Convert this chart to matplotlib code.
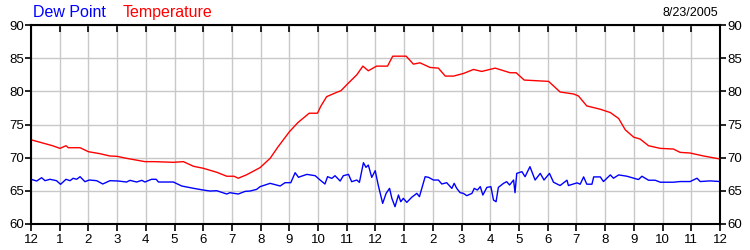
import matplotlib
matplotlib.use("Agg")
import matplotlib.pyplot as plt

plt.rcParams['font.family'] = ['Liberation Sans', 'DejaVu Sans']

# hours since midnight, temperature readings
temp_hours = [0.0, 0.25, 0.5, 0.75, 1.01, 1.22, 1.3, 1.71, 2.0, 2.4, 2.75, 3.0, 3.33,
              3.97, 4.3, 4.96, 5.31, 5.66, 6.0, 6.47, 6.82, 7.07, 7.22, 7.5, 7.98,
              8.33, 8.6, 9.0, 9.3, 9.69, 9.98, 10.1, 10.3, 10.65, 10.8, 11.0, 11.35,
              11.56, 11.75, 12.04, 12.42, 12.6, 13.07, 13.32, 13.55, 13.9, 14.19,
              14.43, 14.72, 15.07, 15.3, 15.41, 15.7, 16.17, 16.69, 16.9, 17.18,
              18.03, 18.43, 18.9, 19.07, 19.36, 19.83, 20.18, 20.47, 20.7, 20.99,
              21.22, 21.51, 21.92, 22.38, 22.61, 22.96, 23.43, 24.0]
temperature = [72.7, 72.4, 72.1, 71.8, 71.4, 71.8, 71.5, 71.5, 70.9, 70.6, 70.25, 70.2, 69.9,
               69.4, 69.4, 69.3, 69.4, 68.7, 68.4, 67.8, 67.2, 67.2, 66.9, 67.4, 68.5,
               69.9, 71.6, 73.9, 75.3, 76.7, 76.7, 77.8, 79.2, 79.85, 80.1, 81.0, 82.5,
               83.8, 83.1, 83.8, 83.8, 85.3, 85.3, 84.1, 84.3, 83.6, 83.5,
               82.3, 82.3, 82.7, 83.1, 83.3, 83.0, 83.5, 82.8, 82.8, 81.7,
               81.5, 79.9, 79.6, 79.3, 77.8, 77.3, 76.8, 75.9, 74.2, 73.1,
               72.8, 71.8, 71.4, 71.3, 70.8, 70.7, 70.25, 69.8]

# hours since midnight, dew point readings
dew_hours = [0.0, 0.2, 0.37, 0.49, 0.66, 0.89, 1.03, 1.22, 1.36, 1.47, 1.59, 1.71, 1.88,
             2.03, 2.29, 2.5, 2.75, 3.04, 3.33, 3.45, 3.68, 3.86, 3.97, 4.2, 4.36, 4.44,
             4.96, 5.25, 5.66, 6.0, 6.24, 6.47, 6.82, 6.93, 7.22, 7.46, 7.63, 7.86, 7.98,
             8.33, 8.68, 8.85, 9.05, 9.2, 9.32, 9.37, 9.61, 9.9, 10.07, 10.24, 10.33,
             10.48, 10.59, 10.77, 10.88, 11.06, 11.17, 11.35, 11.44, 11.58, 11.67, 11.75,
             11.87, 11.99, 12.1, 12.25, 12.37, 12.49, 12.57, 12.68, 12.8, 12.88, 12.97,
             13.09, 13.26, 13.44, 13.53, 13.73, 13.85, 14.02, 14.19, 14.31, 14.48, 14.66,
             14.74, 14.83, 14.95, 15.06, 15.18, 15.36, 15.44, 15.55, 15.65, 15.74, 15.88,
             16.02, 16.11, 16.2, 16.28, 16.46, 16.57, 16.67, 16.81, 16.86, 16.92, 17.1,
             17.21, 17.38, 17.56, 17.74, 17.87, 18.06, 18.2, 18.43, 18.67, 18.72, 19.02,
             19.13, 19.25, 19.36, 19.54, 19.6, 19.83, 19.94, 20.18, 20.29, 20.47, 20.76,
             21.16, 21.28, 21.51, 21.74, 21.92, 22.38, 22.61, 22.96, 23.2, 23.31, 23.66, 24.0]
dew_point = [66.74, 66.48, 66.98, 66.53, 66.74, 66.53, 65.98, 66.74, 66.53, 66.89, 66.74, 67.13, 66.38,
             66.63, 66.53, 66.03, 66.53, 66.48, 66.33, 66.58, 66.33, 66.58, 66.33, 66.74, 66.74, 66.33,
             66.33, 65.73, 65.38, 65.12, 64.97, 65.02, 64.52, 64.72, 64.52, 64.92, 64.97, 65.22, 65.63,
             66.13, 65.73, 66.23, 66.23, 67.73, 67.03, 67.13, 67.48, 67.28, 66.63, 66.03, 67.13,
             66.88, 67.28, 66.48, 67.28, 67.48, 66.38, 66.63, 66.28, 69.24, 68.54, 68.89,
             67.03, 68.04, 65.78, 63.11, 64.62, 65.37, 63.87, 62.61, 64.37, 63.36, 63.87,
             63.26, 64.02, 64.62, 64.12, 67.13, 67.03, 66.63, 66.63, 66.03, 66.23, 65.37,
             66.13, 65.37, 64.72, 64.62, 64.27, 64.62, 65.37, 65.12, 65.63, 64.37, 65.52,
             65.63, 63.61, 63.36, 65.52, 66.13, 66.38, 65.88, 66.63, 64.72, 67.63, 67.89,
             67.13, 68.64, 66.63, 67.63, 66.63, 67.63, 66.3, 65.8, 66.6, 65.8, 66.2,
             66.0, 67.1, 66.0, 66.0, 67.1, 67.1, 66.4, 67.4, 66.9, 67.4, 67.2,
             66.7, 67.2, 66.6, 66.6, 66.3, 66.3, 66.4, 66.4, 66.9, 66.4, 66.5, 66.4]

hour_labels = ['12', '1', '2', '3', '4', '5', '6', '7', '8', '9', '10', '11',
               '12', '1', '2', '3', '4', '5', '6', '7', '8', '9', '10', '11', '12']
y_ticks = [60, 65, 70, 75, 80, 85, 90]
date_text = '8/23/2005'

fig = plt.figure(figsize=(7.5, 2.5), dpi=100)
ax = fig.add_axes([0.0413, 0.104, 0.9187, 0.796])

ax.plot(temp_hours, temperature, color='#ff0000', linewidth=1.0)
ax.plot(dew_hours, dew_point, color='#0000ff', linewidth=1.0)

ax.set_xlim(0, 24)
ax.set_ylim(60, 90)
ax.set_xticks(range(25))
ax.set_xticklabels(hour_labels)
ax.set_yticks(y_ticks)
ax.grid(True, color='#c8c8c8', linewidth=1.0)
ax.set_axisbelow(True)

for side in ['left', 'right', 'top', 'bottom']:
    ax.spines[side].set_linewidth(1.5)
    ax.spines[side].set_color('black')

ax.tick_params(axis='x', direction='out', length=5, width=1.2, labelsize=9.5, pad=2,
               top=True)
ax.tick_params(axis='y', direction='out', length=4, width=1.2, labelsize=9.5, pad=1,
               left=True, right=True, labelleft=True, labelright=True)

# top ticks point inward
for t in ax.xaxis.get_major_ticks():
    t.tick2line.set_marker(3)
    t.tick2line.set_markersize(5)

fig.text(0.044, 0.95, 'Dew Point', color='#0000ff', fontsize=11.5, va='center', ha='left')
fig.text(0.164, 0.95, 'Temperature', color='#ff0000', fontsize=11.5, va='center', ha='left')
fig.text(0.957, 0.95, date_text, color='black', fontsize=9, va='center', ha='right')

fig.savefig('out.png', dpi=100)
